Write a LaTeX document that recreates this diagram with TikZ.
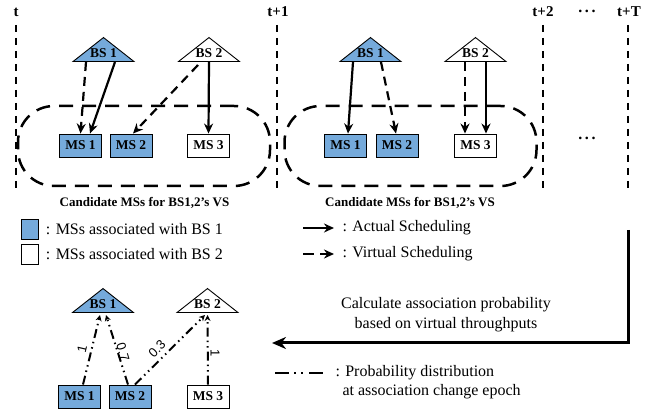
\documentclass[tikz,border=0pt]{standalone}
\usepackage{fontspec}
\setmainfont{Liberation Serif}
\newfontfamily\problabelfont{Liberation Sans}
\usetikzlibrary{arrows.meta, positioning, shapes.geometric, calc}
\definecolor{msblue}{RGB}{117,170,219}

\begin{document}
\begin{tikzpicture}[
    x=1pt, y=-1pt,
    >={Stealth[length=10pt, width=9pt]},
    every node/.style={align=center},
    bstri/.style={draw, line width=0.9pt, isosceles triangle, isosceles triangle stretches,
        shape border rotate=90, minimum width=61pt, minimum height=24pt, inner sep=0pt, anchor=south},
    bslabel/.style={font=\fontsize{13.5}{15}\selectfont\bfseries, inner sep=0pt},
    msbox/.style={draw, line width=0.9pt, minimum width=42pt, minimum height=23pt, inner sep=0pt,
        font=\fontsize{13.5}{15}\selectfont\bfseries},
    vsregion/.style={draw, line width=2.5pt, dash pattern=on 14pt off 9pt, rounded corners=36pt,
        minimum width=252pt, minimum height=80pt},
    timeline/.style={line width=2pt, dash pattern=on 7pt off 6pt},
    timelabel/.style={font=\fontsize{15}{17}\selectfont\bfseries},
    dotslabel/.style={font=\fontsize{16}{18}\selectfont\bfseries, anchor=base, inner sep=0pt},
    caption/.style={font=\fontsize{13}{15}\selectfont\bfseries},
    legend/.style={font=\fontsize{16}{19}\selectfont, align=left, anchor=west},
    act/.style={->, line width=2.2pt},
    virt/.style={->, line width=2.2pt, dash pattern=on 9pt off 6pt},
    prob/.style={-{Stealth[length=6pt, width=6pt]}, line width=2pt,
        dash pattern=on 9pt off 4pt on 1.5pt off 4pt on 1.5pt off 4pt},
    problabel/.style={font=\fontsize{13}{15}\selectfont\problabelfont, inner sep=0pt},
    bigarrow/.style={-{Stealth[length=14pt, width=12pt]}, line width=3pt},
]
\useasboundingbox (0,0) rectangle (670,414);

% --- time axis
\node[timelabel] (tl0) at (16,12)  {t};
\node[timelabel] (tl1) at (278,12) {t+1};
\node[timelabel] (tl2) at (543,12) {t+2};
\node[dotslabel] (tldots) at (587,12.5) {.\,.\,.};
\node[timelabel] (tlT) at (629,12) {t+T};
\draw[timeline] (16,25)  -- (16,190);
\draw[timeline] (277,25) -- (277,190);
\draw[timeline] (543,25) -- (543,190);
\draw[timeline] (628,25) -- (628,190);

% --- slot t
\node[vsregion] (vsa) at (144,146) {};
\node[bstri, fill=msblue] (bs1a) at (103.5,62) {};
\node[bslabel] at (103.5,53) {BS 1};
\node[bstri, fill=white] (bs2a) at (209,62) {};
\node[bslabel] at (209,53) {BS 2};
\node[msbox, fill=msblue] (ms1a) at (80.5,145.5) {MS 1};
\node[msbox, fill=msblue] (ms2a) at (131,145.5)  {MS 2};
\node[msbox, fill=white]  (ms3a) at (208.5,145.5) {MS 3};
\draw[virt] ([xshift=-17.5pt]bs1a.south) -- (ms1a.north);
\draw[act]  ([xshift=11.5pt]bs1a.south)  -- ([xshift=9.5pt]ms1a.north);
\draw[virt] ([xshift=-11pt,yshift=-3pt]bs2a.south) -- ([xshift=2pt]ms2a.north);
\draw[act]  (bs2a.south) -- (ms3a.north);
\node[caption] at (144.5,203) {Candidate MSs for BS1,2's VS};

% --- slot t+1
\node[vsregion] (vsb) at (410.5,146) {};
\node[bstri, fill=msblue] (bs1b) at (370.5,62) {};
\node[bslabel] at (370.5,53) {BS 1};
\node[bstri, fill=white] (bs2b) at (475.5,62) {};
\node[bslabel] at (475.5,53) {BS 2};
\node[msbox, fill=msblue] (ms1b) at (345.5,145.5) {MS 1};
\node[msbox, fill=msblue] (ms2b) at (397,145.5)   {MS 2};
\node[msbox, fill=white]  (ms3b) at (475.5,145.5) {MS 3};
\draw[act]  ([xshift=-17.5pt]bs1b.south) -- ([xshift=2.5pt]ms1b.north);
\draw[virt] ([xshift=10.5pt]bs1b.south)  -- ([xshift=-1pt]ms2b.north);
\draw[virt] ([xshift=-10.5pt]bs2b.south) -- ([xshift=-10.5pt]ms3b.north);
\draw[act]  ([xshift=10.5pt]bs2b.south)  -- ([xshift=10.5pt]ms3b.north);
\node[caption] at (410,203) {Candidate MSs for BS1,2's VS};
\node[dotslabel] (msdots) at (587,139.5) {.\,.\,.};

% --- legend
\node[draw, line width=0.9pt, fill=msblue, minimum width=17pt, minimum height=20pt, inner sep=0pt] (keyblue) at (29.5,229) {};
\node[legend, right=4pt of keyblue] {: MSs associated with BS 1};
\node[draw, line width=0.9pt, fill=white, minimum width=17pt, minimum height=20pt, inner sep=0pt] (keywhite) at (29.5,254.5) {};
\node[legend, right=4pt of keywhite] {: MSs associated with BS 2};
\coordinate (keyacta) at (303,228);
\coordinate (keyactb) at (334,228);
\draw[act] (keyacta) -- (keyactb);
\node[legend] at (339,228) {: Actual Scheduling};
\coordinate (keyvirta) at (303,254);
\coordinate (keyvirtb) at (334,254);
\draw[virt, dash pattern=on 11pt off 6pt] (keyvirta) -- (keyvirtb);
\node[legend] at (339,254) {: Virtual Scheduling};
\coordinate (keyproba) at (275,373);
\coordinate (keyprobb) at (323,373);
\draw[line width=2.2pt, dash pattern=on 14pt off 5pt on 2pt off 5pt on 2pt off 6pt] (keyproba) -- (keyprobb);
\node[legend, anchor=north west] at (332,362) {: Probability distribution\\\hspace{7pt}at association change epoch};

% --- feedback to association epoch
\coordinate (fbstart) at (628,230);
\coordinate (fbend) at (272,343);
\draw[bigarrow] (fbstart) |- (fbend);
\node[font=\fontsize{16}{20}\selectfont] at (446,315) {Calculate association probability\\based on virtual throughputs};

% --- association change epoch
\node[bstri, fill=msblue] (bs1c) at (103,313) {};
\node[bslabel] at (103,304) {BS 1};
\node[bstri, fill=white] (bs2c) at (207.5,313) {};
\node[bslabel] at (207.5,304) {BS 2};
\node[msbox, fill=msblue] (ms1c) at (79.5,396.5) {MS 1};
\node[msbox, fill=msblue] (ms2c) at (130,396.5)  {MS 2};
\node[msbox, fill=white]  (ms3c) at (208,396.5)  {MS 3};
\draw[prob] ([xshift=3.5pt]ms1c.north) -- ([xshift=-3pt,yshift=-2pt]bs1c.south);
\draw[prob] ([xshift=-2pt]ms2c.north)  -- ([xshift=3pt,yshift=-2pt]bs1c.south);
\draw[prob] ([xshift=5pt]ms2c.north)   -- ([xshift=-2.5pt,yshift=-2pt]bs2c.south);
\draw[prob] (ms3c.north) -- ([yshift=-2pt]bs2c.south);
\node[problabel, rotate=77]  (pa) at (82,349)  {1};
\node[problabel, rotate=-73] (pb) at (123,352) {0.7};
\node[problabel, rotate=45]  (pc) at (157,349) {0.3};
\node[problabel, rotate=-90] (pd) at (215,353) {1};

\end{tikzpicture}
\end{document}
